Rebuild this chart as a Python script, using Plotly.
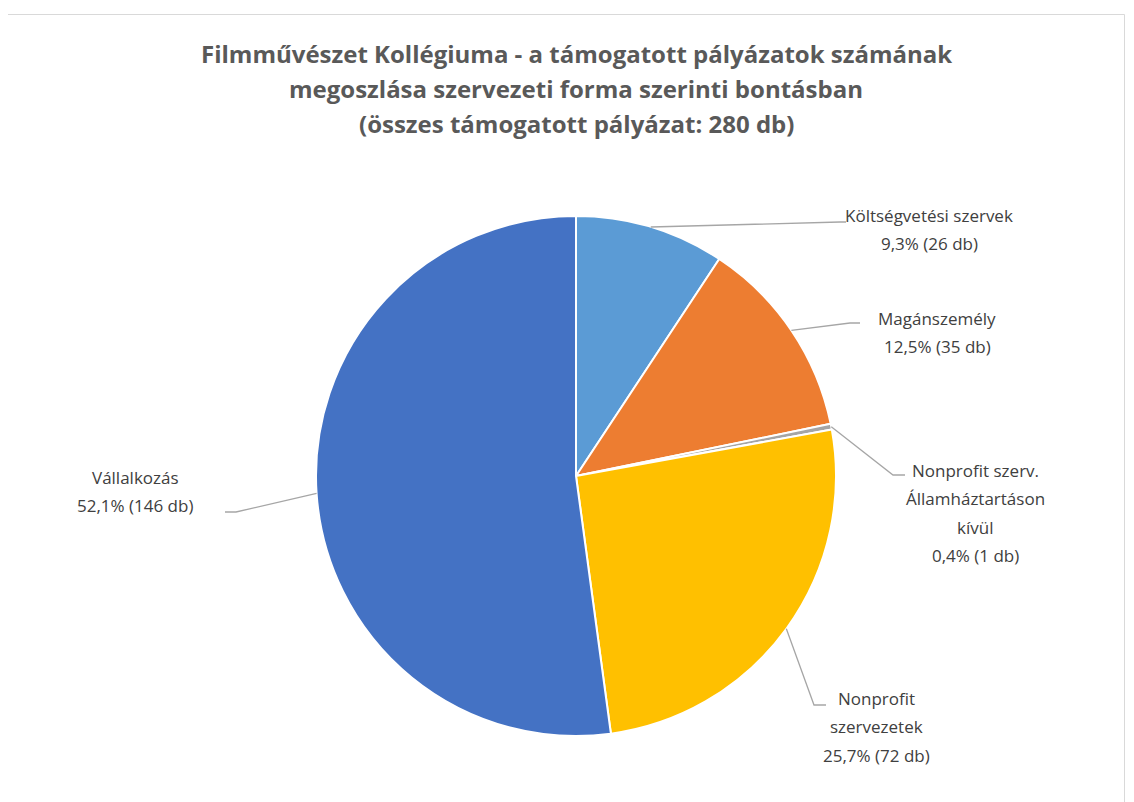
import math
import plotly.graph_objects as go

# ---- data ----
categories = ["Költségvetési szervek", "Magánszemély",
              "Nonprofit szerv. Államháztartáson kívül",
              "Nonprofit szervezetek", "Vállalkozás"]
counts = [26, 35, 1, 72, 146]
label_lines = [["Költségvetési szervek"], ["Magánszemély"],
               ["Nonprofit szerv.", "Államháztartáson", "kívül"],
               ["Nonprofit", "szervezetek"], ["Vállalkozás"]]
colors = ["#5B9BD5", "#ED7D31", "#A5A5A5", "#FFC000", "#4472C4"]
title_lines = ["Filmművészet Kollégiuma - a támogatott pályázatok számának",
               "megoszlása szervezeti forma szerinti bontásban",
               "(összes támogatott pályázat: 280 db)"]

# ---- layout constants (pixels in the screenshot) ----
W, H = 1134, 802
OFF = 8  # page body margin
CX, CY, R = 576, 476, 260
# label text centre x, first-line centre y, elbow point, line end
label_pos = [(929, 215), (937, 318), (975, 470), (876, 698), (135, 477)]
elbows = [(840, 222), (850, 323), (893, 475), (814, 705), (236, 512)]
ends = [(846, 222), (860, 323), (905, 475), (826, 705), (225, 512)]
LINE_H = 28.5
FONT = "Open Sans"

def px(x):
    return (x - OFF) / W

def py(y):
    return 1 - (y - OFF) / H

total = sum(counts)
fig = go.Figure()
fig.add_trace(go.Pie(
    labels=categories, values=counts, sort=False, direction="clockwise",
    rotation=0, textinfo="none", hoverinfo="label+value+percent",
    marker=dict(colors=colors, line=dict(color="white", width=2)),
    domain=dict(x=[px(CX - R), px(CX + R)], y=[py(CY + R), py(CY - R)]),
    showlegend=False,
))

shapes = [dict(type="rect", xref="paper", yref="paper",
               x0=px(7.5), x1=px(1124.5), y0=py(830), y1=py(14.5),
               line=dict(color="#D9D9D9", width=1), fillcolor="rgba(0,0,0,0)")]
annotations = []
cum = 0
for i, v in enumerate(counts):
    mid = (cum + v / 2) / total * 2 * math.pi
    cum += v
    sx = CX + R * math.sin(mid)
    sy = CY - R * math.cos(mid)
    ex, ey = elbows[i]
    fx, fy = ends[i]
    shapes.append(dict(type="path", xref="paper", yref="paper",
                       path=f"M {px(sx)} {py(sy)} L {px(ex)} {py(ey)} L {px(fx)} {py(fy)}",
                       line=dict(color="#A6A6A6", width=1.3)))
    pct = f"{v / total * 100:.1f}".replace(".", ",")
    lines = label_lines[i] + [f"{pct}% ({v} db)"]
    lx, ly = label_pos[i]
    for k, t in enumerate(lines):
        annotations.append(dict(x=px(lx), y=py(ly + k * LINE_H), xref="paper", yref="paper",
                                text=t, showarrow=False, xanchor="center", yanchor="middle",
                                font=dict(family=FONT, size=17, color="#404040")))

for k, t in enumerate(title_lines):
    annotations.append(dict(x=px(576), y=py(53 + k * 35.5), xref="paper", yref="paper",
                            text=f"<b>{t}</b>", showarrow=False, xanchor="center", yanchor="middle",
                            font=dict(family=FONT, size=24, color="#595959")))

fig.update_layout(width=W, height=H, margin=dict(l=0, r=0, t=0, b=0),
                  paper_bgcolor="white", plot_bgcolor="white",
                  shapes=shapes, annotations=annotations)
fig.write_html("out.html")
